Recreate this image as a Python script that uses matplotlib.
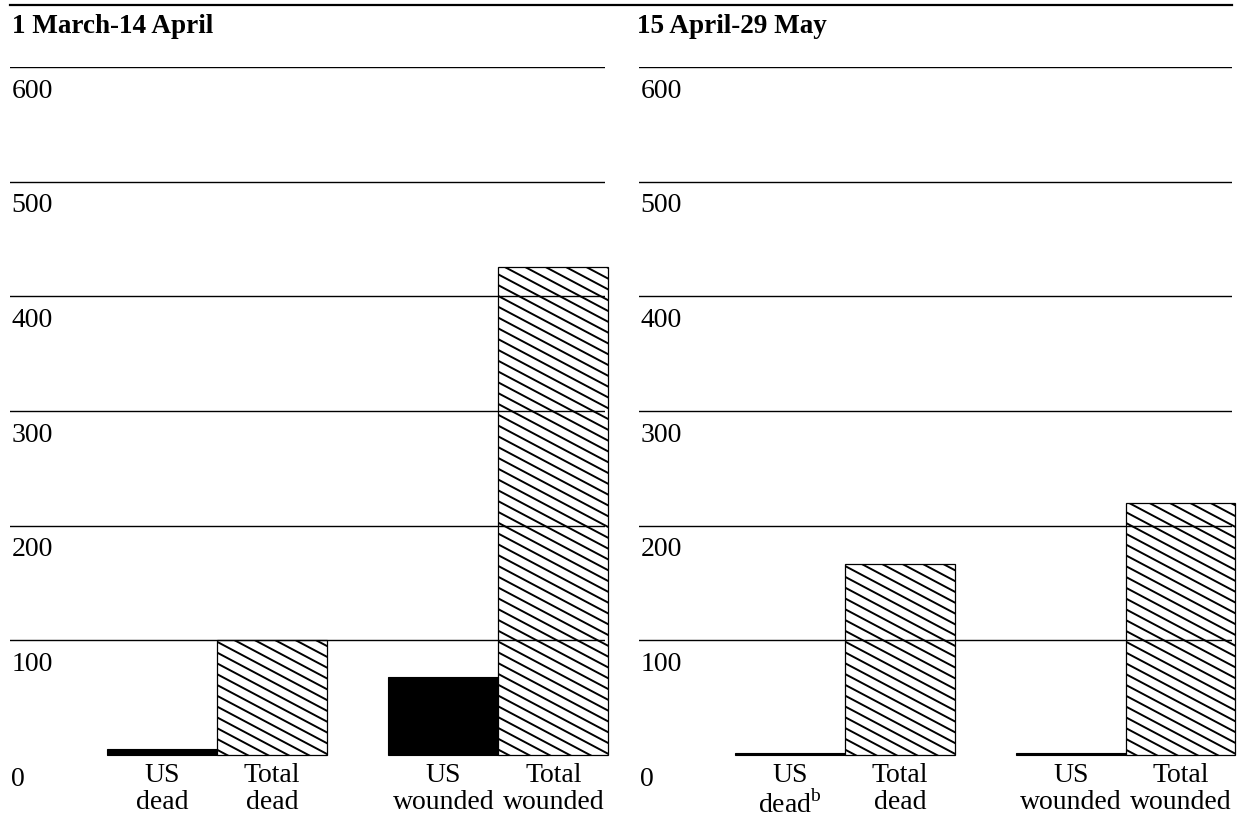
import matplotlib
matplotlib.use("Agg")
import matplotlib.pyplot as plt
import numpy as np
from matplotlib.collections import LineCollection
from matplotlib.lines import Line2D

plt.rcParams["font.family"] = ["Liberation Serif", "DejaVu Serif"]
plt.rcParams["mathtext.fontset"] = "custom"
plt.rcParams["mathtext.rm"] = "Liberation Serif"

# data
periods = ["1 March-14 April", "15 April-29 May"]
categories = [
    ["US\ndead", "Total\ndead", "US\nwounded", "Total\nwounded"],
    ["US\ndead$^{\\mathrm{b}}$", "Total\ndead", "US\nwounded", "Total\nwounded"],
]
us_dead = [5, 2]
total_dead = [100, 167]
us_wounded = [68, 2]
total_wounded = [426, 220]
y_ticks = [0, 100, 200, 300, 400, 500, 600]

W, H = 1243, 821
FS = 20
positions = [0, 1, 2.56, 3.56]


def hatch_bar(ax, bar, slope=0.53, step=10.8):
    # diagonal hatch drawn in pixel space, clipped to the bar
    (x0, y0), (x1, y1) = ax.transData.transform(
        [(bar.get_x(), bar.get_y()), (bar.get_x() + bar.get_width(), bar.get_y() + bar.get_height())]
    )
    segs = []
    c = y0 + step / 2
    while c < y1 + slope * (x1 - x0) + step:
        p = ax.transData.inverted().transform([(x0 - 5, c + slope * 5), (x1 + 5, c - slope * (x1 - x0 + 5))])
        segs.append(p)
        c += step
    lc = LineCollection(segs, colors="black", linewidths=1.4, zorder=2.5)
    ax.add_collection(lc, autolim=False)
    lc.set_clip_path(bar)


fig = plt.figure(figsize=(W / 100, H / 100), dpi=100)
bottom = (H - 755) / H
height = (755 - 67) / H
axes = [
    fig.add_axes([10 / W, bottom, 595 / W, height]),
    fig.add_axes([639 / W, bottom, 593 / W, height]),
]

for i, ax in enumerate(axes):
    vals = [us_dead[i], total_dead[i], us_wounded[i], total_wounded[i]]
    ax.set_xlim(-1.38, 4.03)
    ax.set_ylim(0, 600)
    for s in ax.spines.values():
        s.set_visible(False)
    ax.set_yticks([])
    ax.set_xticks(positions, categories[i], fontsize=FS, linespacing=1.1)
    ax.tick_params(axis="x", length=0, pad=6)

    ax.bar([positions[0], positions[2]], [vals[0], vals[2]], width=1.0,
           color="black", edgecolor="black", linewidth=0.8, zorder=2, clip_on=False)
    ax.bar([positions[1], positions[3]], [vals[1], vals[3]], width=1.0,
           color="white", edgecolor="black", linewidth=0.9, zorder=2, clip_on=False)

    for v in y_ticks[1:]:
        ax.axhline(v, color="black", lw=1.0, zorder=3)
    ax.axhline(0, color="0.55", lw=0.7, zorder=1)

    for v in y_ticks:
        ax.annotate(str(v), xy=(0, v), xycoords=("axes fraction", "data"),
                    xytext=(1, -22), textcoords="offset points",
                    ha="left", va="baseline", fontsize=FS)

for ax in axes:
    for bar in list(ax.patches[2:]):
        hatch_bar(ax, bar)

fig.text(12 / W, (H - 33) / H, periods[0], fontsize=19.5, fontweight="bold", va="baseline")
fig.text(637 / W, (H - 33) / H, periods[1], fontsize=19.5, fontweight="bold", va="baseline")
fig.add_artist(Line2D([10 / W, 1232 / W], [(H - 5) / H] * 2, color="black", lw=1.6))

fig.savefig("out.png", dpi=100)
